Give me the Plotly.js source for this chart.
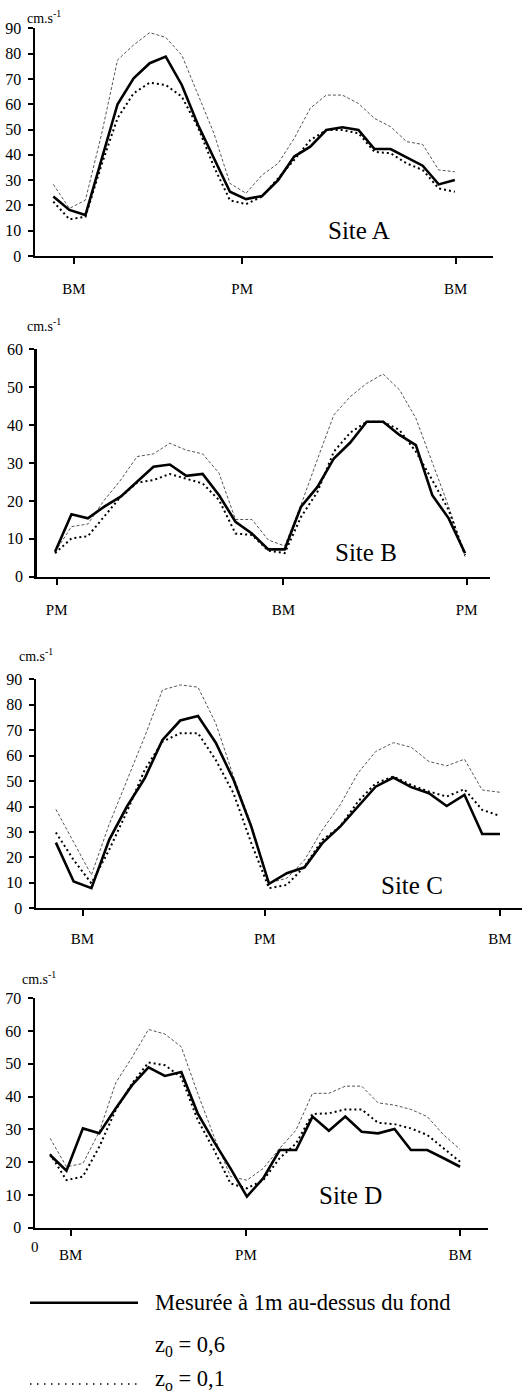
<!DOCTYPE html>
<html>
<head>
<meta charset="utf-8">
<script src="https://cdn.plot.ly/plotly-3.0.1.min.js"></script>
<style>html,body{margin:0;padding:0;background:#fff;}#chart{width:531px;height:1394px;}</style>
</head>
<body>
<div id="chart"></div>
<script>
// time of each sample (hours from the first measurement)
const timeH = [0, 0.5, 1, 1.5, 2, 2.5, 3, 3.5, 4, 4.5, 5, 5.5, 6, 6.5, 7, 7.5, 8, 8.5, 9, 9.5, 10, 10.5, 11, 11.5, 12, 12.5];

// Site A
const measA = [23.5, 18.2, 16.2, 37.9, 60, 70.2, 76.2, 78.8, 67.6, 52, 39, 25.4, 22.5, 23.7, 30, 39.3, 43.2, 49.8, 50.9, 49.8, 42.3, 42.3, 39, 35.7, 28.3, 30];
const z06A = [28.3, 18.8, 22.1, 48, 77.5, 83.4, 88.3, 86.4, 79.4, 64.3, 48.5, 28.7, 24.8, 32, 36.6, 46.5, 58.4, 63.6, 63.6, 60.3, 54.4, 51.1, 45.2, 44.1, 34, 33.3];
const z01A = [21.5, 14.5, 15.5, 36, 54.5, 64.3, 68.5, 67.6, 63, 51, 35.3, 22, 20.5, 23.5, 30.7, 38, 45.8, 49.8, 49.8, 48.5, 41.2, 40.6, 36.6, 34, 26.7, 25.4];
const tideTimesA = [0.64, 5.88, 12.53];
const tideLabelsA = ['BM', 'PM', 'BM'];

// Site B
const measB = [6.6, 16.5, 15.4, 18.5, 21.1, 25.1, 29, 29.6, 26.6, 27.1, 21.5, 14.5, 11.4, 7.2, 7.2, 18.5, 23.7, 31.2, 35.4, 40.9, 40.9, 37.4, 34.7, 21.5, 15.4, 6.2];
const z06B = [6.6, 13.2, 13.9, 20.2, 25.5, 31.7, 32.4, 35.2, 33.4, 32.4, 27.3, 15.1, 15.1, 9.7, 8.1, 19, 31, 42.7, 47.5, 51, 53.5, 49.3, 41.8, 29.9, 18.5, 5.3];
const z01B = [6.2, 10.1, 10.7, 15.8, 21.1, 24.8, 25.5, 27.1, 25.9, 24.6, 20.2, 11.4, 11, 6.9, 6.2, 15.8, 22.4, 33, 38, 40.9, 40.9, 38.7, 33, 25.5, 17.6, 5.7];
const tideTimesB = [0.05, 6.96, 12.55];
const tideLabelsB = ['PM', 'BM', 'PM'];

// Site C
const measC = [25.8, 10.5, 7.9, 26.9, 40, 51.1, 66.2, 73.8, 75.6, 65.1, 50.5, 32.1, 9.6, 13.8, 16.1, 25.6, 32.1, 40, 47.8, 51.4, 47.6, 45.2, 40.2, 44.6, 29.2, 29.2];
const z06C = [38.9, 26, 13.1, 33, 50, 67.5, 85.8, 87.8, 86.9, 72.7, 51.8, 33, 10, 11.8, 19, 30.8, 40.6, 53.1, 61.6, 65.1, 63.3, 57.7, 56, 58.6, 46.5, 45.6];
const z01C = [29.8, 19, 9.8, 23, 38, 54.4, 65.5, 68.8, 68.8, 58.3, 45.2, 25.6, 7.9, 9.2, 16.4, 26.9, 32.1, 41.9, 49.1, 51.8, 48.5, 45.9, 43.9, 46.8, 38.7, 36.3];
const tideTimesC = [0.75, 5.88, 12.5];
const tideLabelsC = ['BM', 'PM', 'BM'];

// Site D
const measD = [22.2, 17.4, 30.3, 28.8, 36.4, 43.5, 48.9, 46.3, 47.5, 34.9, 26.2, 18.1, 9.5, 15.1, 23.7, 23.7, 33.9, 29.6, 33.9, 29.3, 28.8, 30.1, 23.7, 23.7, 21.2, 18.6];
const z06D = [27.3, 18.6, 19.6, 29.3, 44.2, 52, 60.5, 59.1, 55.2, 41, 27.8, 15.6, 14.5, 18.1, 24.2, 29.8, 41, 41, 43.2, 43.2, 38.1, 37.4, 36.1, 33.9, 28.3, 23.9];
const z01D = [22.5, 14.5, 15.6, 24.7, 35.9, 44, 50.4, 49.6, 45.9, 32.9, 23.7, 13.5, 12, 14.5, 21.2, 25.7, 34.7, 34.9, 36.1, 36.1, 32, 31.6, 30.3, 28.3, 24.2, 20.1];
const tideTimesD = [0.63, 5.97, 12.5];
const tideLabelsD = ['BM', 'PM', 'BM'];

const siteNames = ['Site A', 'Site B', 'Site C', 'Site D'];
const yMax = [90, 60, 90, 70];
const unitLabel = 'cm.s<sup>-1</sup>';
const legendLabels = ['Mesurée à 1m au-dessus du fond', 'z<sub>0</sub> = 0,6', 'z<sub>o</sub> = 0,1'];

const W = 531, H = 1394;
const FONT = 'Liberation Serif';
const px = v => v / W;
const py = v => 1 - v / H;

// panel geometry (pixels)
const panels = [
  {l: 35, r: 492.7, t: 28.3, b: 256, xr: [-0.57, 13.68], meas: measA, z06: z06A, z01: z01A, tt: tideTimesA, tl: tideLabelsA,
   unit: [25, 17], site: [359, 230], so: 12},
  {l: 36.7, r: 490, t: 349.3, b: 576.7, xr: [-0.56, 13.26], meas: measB, z06: z06B, z01: z01B, tt: tideTimesB, tl: tideLabelsB,
   unit: [25, 325], site: [366, 552], so: 12},
  {l: 36, r: 522, t: 679.3, b: 908.3, xr: [-0.56, 13.12], meas: measC, z06: z06C, z01: z01C, tt: tideTimesC, tl: tideLabelsC,
   unit: [17, 655], site: [412, 885], so: 10},
  {l: 35, r: 488.3, t: 998.3, b: 1227.7, xr: [-0.46, 13.36], meas: measD, z06: z06D, z01: z01D, tt: tideTimesD, tl: tideLabelsD,
   unit: [20, 978], site: [350, 1195], so: 6}
];

const data = [];
const layout = {
  width: W, height: H,
  margin: {l: 0, r: 0, t: 0, b: 0, pad: 0},
  paper_bgcolor: '#fff', plot_bgcolor: '#fff',
  showlegend: false,
  font: {family: FONT, color: '#000', size: 14},
  annotations: [], shapes: []
};

panels.forEach((p, i) => {
  const n = i + 1;
  const xa = 'x' + (n === 1 ? '' : n), ya = 'y' + (n === 1 ? '' : n);
  const xk = 'xaxis' + (n === 1 ? '' : n), yk = 'yaxis' + (n === 1 ? '' : n);
  data.push({x: timeH, y: p.z06, xaxis: xa, yaxis: ya, mode: 'lines', type: 'scatter',
    line: {color: '#555', width: 1, dash: '3px,2px'}, hoverinfo: 'skip'});
  data.push({x: timeH, y: p.z01, xaxis: xa, yaxis: ya, mode: 'lines', type: 'scatter',
    line: {color: '#000', width: 2, dash: '2px,3px'}, hoverinfo: 'skip'});
  data.push({x: timeH, y: p.meas, xaxis: xa, yaxis: ya, mode: 'lines', type: 'scatter',
    line: {color: '#000', width: 2.6}, hoverinfo: 'skip'});
  layout[xk] = {
    domain: [px(p.l), px(p.r)], range: p.xr, anchor: ya,
    showline: true, linecolor: '#000', linewidth: 2,
    showgrid: false, zeroline: false,
    tickmode: 'array', tickvals: p.tt, ticktext: p.tl,
    ticks: 'outside', ticklen: 6, tickwidth: 2, tickcolor: '#000',
    ticklabelstandoff: p.so,
    tickfont: {family: FONT, size: 15, color: '#000'}
  };
  layout[yk] = {
    domain: [py(p.b), py(p.t)], range: [0, yMax[i]], anchor: xa,
    showline: true, linecolor: '#000', linewidth: 2.5,
    showgrid: false, zeroline: false,
    tickmode: 'linear', tick0: 0, dtick: 10,
    ticks: 'outside', ticklen: 5, tickwidth: 2, tickcolor: '#000',
    ticklabelstandoff: 3,
    tickfont: {family: FONT, size: 16, color: '#000'}
  };
  layout.annotations.push({xref: 'paper', yref: 'paper', x: px(p.unit[0]), y: py(p.unit[1]),
    xanchor: 'left', yanchor: 'middle', text: unitLabel, showarrow: false,
    font: {family: FONT, size: 14, color: '#000'}});
  layout.annotations.push({xref: 'paper', yref: 'paper', x: px(p.site[0]), y: py(p.site[1]),
    xanchor: 'center', yanchor: 'middle', text: siteNames[i], showarrow: false,
    font: {family: FONT, size: 25, color: '#000'}});
});

// stray origin label under panel D
layout.annotations.push({xref: 'paper', yref: 'paper', x: px(35), y: py(1246.7), xanchor: 'center', yanchor: 'middle',
  text: '0', showarrow: false, font: {family: FONT, size: 15, color: '#000'}});

// legend
layout.shapes.push({type: 'line', xref: 'paper', yref: 'paper', x0: px(30), x1: px(138), y0: py(1302.7), y1: py(1302.7),
  line: {color: '#000', width: 2.5}});
layout.shapes.push({type: 'line', xref: 'paper', yref: 'paper', x0: px(30), x1: px(140), y0: py(1384), y1: py(1384),
  line: {color: '#000', width: 1.5, dash: '1.5px,5.5px'}});
const legY = [1302, 1345.5, 1380];
legendLabels.forEach((t, k) => {
  layout.annotations.push({xref: 'paper', yref: 'paper', x: px(153), y: py(legY[k]), xanchor: 'left', yanchor: 'middle',
    text: t, showarrow: false, font: {family: FONT, size: 22.5, color: '#000'}});
});

Plotly.newPlot('chart', data, layout, {staticPlot: true, displayModeBar: false});
</script>
</body>
</html>
